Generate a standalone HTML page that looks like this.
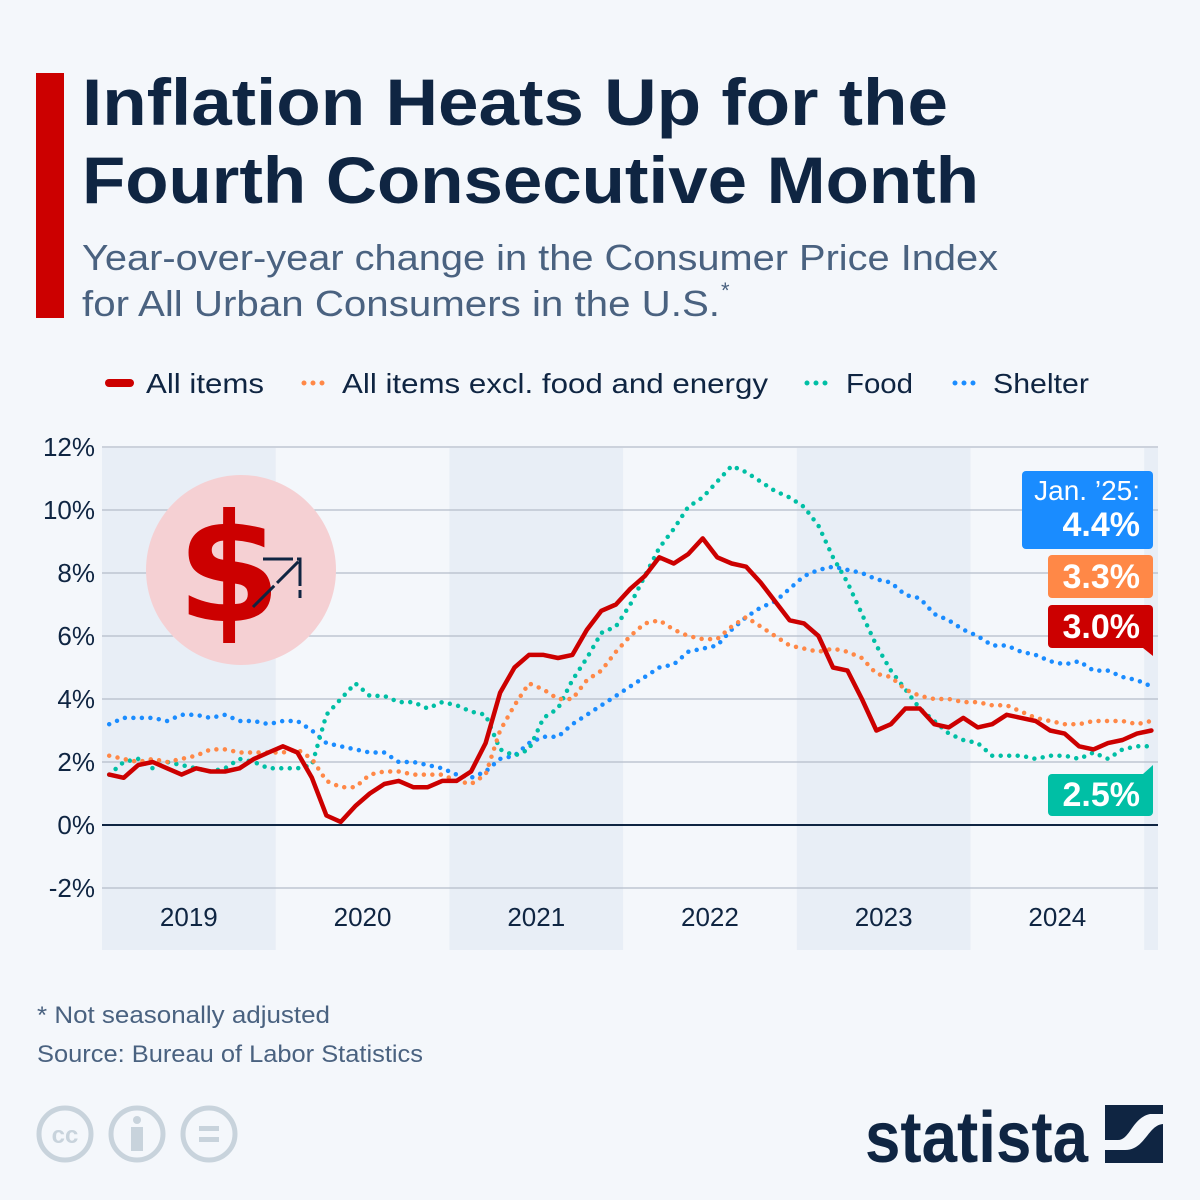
<!DOCTYPE html>
<html><head><meta charset="utf-8"><style>
html,body{margin:0;padding:0;background:#f4f7fb;}
svg{display:block;font-family:"Liberation Sans",sans-serif;}
</style></head><body>
<svg id="chart" width="1200" height="1200" viewBox="0 0 1200 1200" xmlns="http://www.w3.org/2000/svg">
<rect width="1200" height="1200" fill="#f4f7fb"/>
<rect x="36" y="73" width="28" height="245" fill="#cc0000"/>
<text x="82" y="125" font-size="66" font-weight="bold" fill="#0f2542" textLength="866" lengthAdjust="spacingAndGlyphs">Inflation Heats Up for the</text>
<text x="82" y="203" font-size="66" font-weight="bold" fill="#0f2542" textLength="897" lengthAdjust="spacingAndGlyphs">Fourth Consecutive Month</text>
<text x="82" y="270" font-size="36" fill="#4a6280" textLength="916" lengthAdjust="spacingAndGlyphs">Year-over-year change in the Consumer Price Index</text>
<text x="82" y="316" font-size="36" fill="#4a6280" textLength="638" lengthAdjust="spacingAndGlyphs">for All Urban Consumers in the U.S.</text>
<text x="721" y="298" font-size="22" fill="#4a6280">*</text>

<g>
<g><line x1="109" y1="383" x2="130" y2="383" stroke="#cc0000" stroke-width="8" stroke-linecap="round"/><text x="146" y="393" font-size="28" fill="#0f2542" textLength="118" lengthAdjust="spacingAndGlyphs">All items</text></g>
<g><line x1="304" y1="383" x2="326" y2="383" stroke="#ff8847" stroke-width="5" stroke-dasharray="0 9" stroke-linecap="round"/><text x="342" y="393" font-size="28" fill="#0f2542" textLength="426" lengthAdjust="spacingAndGlyphs">All items excl. food and energy</text></g>
<g><line x1="807" y1="383" x2="829" y2="383" stroke="#00bfa5" stroke-width="5" stroke-dasharray="0 9" stroke-linecap="round"/><text x="846" y="393" font-size="28" fill="#0f2542" textLength="67" lengthAdjust="spacingAndGlyphs">Food</text></g>
<g><line x1="955" y1="383" x2="977" y2="383" stroke="#1a8cff" stroke-width="5" stroke-dasharray="0 9" stroke-linecap="round"/><text x="993" y="393" font-size="28" fill="#0f2542" textLength="96" lengthAdjust="spacingAndGlyphs">Shelter</text></g>
</g>

<g id="bands"></g>
<g id="grid"></g>
<g id="ylabels"></g>
<g id="xlabels"></g>

<g>
<circle cx="241" cy="570" r="95" fill="#f5d0d3"/>
<text x="229" y="621" font-size="150" font-weight="bold" fill="#cc0000" text-anchor="middle" font-family="'DejaVu Sans',sans-serif">$</text>
<path d="M253 607 L300 560 M263 559 L300 559 L300 598" stroke="#0f2542" stroke-width="3" fill="none" stroke-dasharray="30 4"/>
</g>

<g id="series"></g>

<g>
<g><rect x="1022" y="471" width="131" height="78" rx="4" fill="#1a8cff"/><text x="1140" y="500" font-size="28" fill="#fff" text-anchor="end">Jan. ’25:</text><text x="1140" y="536" font-size="34" font-weight="bold" fill="#fff" text-anchor="end">4.4%</text></g>
<g><rect x="1048" y="555" width="105" height="43" rx="4" fill="#ff8847"/><text x="1140" y="588" font-size="34" font-weight="bold" fill="#fff" text-anchor="end">3.3%</text></g>
<g><rect x="1048" y="605" width="105" height="43" rx="4" fill="#cc0000"/><path d="M1143 648 L1153 656 L1153 640 Z" fill="#cc0000"/><text x="1140" y="638" font-size="34" font-weight="bold" fill="#fff" text-anchor="end">3.0%</text></g>
<g><rect x="1048" y="774" width="105" height="42" rx="4" fill="#00bfa5"/><path d="M1143 774 L1153 765 L1153 782 Z" fill="#00bfa5"/><text x="1140" y="806" font-size="34" font-weight="bold" fill="#fff" text-anchor="end">2.5%</text></g>
</g>

<text x="37" y="1023" font-size="24" fill="#4a6280" textLength="293" lengthAdjust="spacingAndGlyphs">* Not seasonally adjusted</text>
<text x="37" y="1062" font-size="24" fill="#4a6280" textLength="386" lengthAdjust="spacingAndGlyphs">Source: Bureau of Labor Statistics</text>

<g fill="none" stroke="#c8d3dc" stroke-width="5">
<circle cx="65" cy="1134" r="26"/><text x="65" y="1143" font-size="24" font-weight="bold" fill="#c8d3dc" stroke="none" text-anchor="middle">cc</text>
<circle cx="137" cy="1134" r="26"/><circle cx="137" cy="1120" r="4" fill="#c8d3dc" stroke="none"/><rect x="131" y="1127" width="12" height="24" fill="#c8d3dc" stroke="none"/>
<circle cx="209" cy="1134" r="26"/><rect x="199" y="1126" width="20" height="5" fill="#c8d3dc" stroke="none"/><rect x="199" y="1137" width="20" height="5" fill="#c8d3dc" stroke="none"/>
</g>

<g>
<text x="865" y="1162" font-size="72" font-weight="bold" fill="#0f2542" textLength="223" lengthAdjust="spacingAndGlyphs">statista</text>
<rect x="1105" y="1105" width="58" height="58" fill="#0f2542"/>
<path d="M1105 1140 L1118 1140 C1130 1140 1132 1118 1150 1114 L1163 1114 L1163 1124 C1148 1125 1145 1150 1125 1150 L1105 1150 Z" fill="#f4f7fb"/>
</g>
</svg>
<script>
const yTicks = [-2,0,2,4,6,8,10,12];
const years = ["2019","2020","2021","2022","2023","2024"];
const allItems = [1.6,1.5,1.9,2.0,1.8,1.6,1.8,1.7,1.7,1.8,2.1,2.3, 2.5,2.3,1.5,0.3,0.1,0.6,1.0,1.3,1.4,1.2,1.2,1.4, 1.4,1.7,2.6,4.2,5.0,5.4,5.4,5.3,5.4,6.2,6.8,7.0, 7.5,7.9,8.5,8.3,8.6,9.1,8.5,8.3,8.2,7.7,7.1,6.5, 6.4,6.0,5.0,4.9,4.0,3.0,3.2,3.7,3.7,3.2,3.1,3.4, 3.1,3.2,3.5,3.4,3.3,3.0,2.9,2.5,2.4,2.6,2.7,2.9, 3.0];
const core = [2.2,2.1,2.0,2.1,2.0,2.1,2.2,2.4,2.4,2.3,2.3,2.3, 2.3,2.4,2.1,1.4,1.2,1.2,1.6,1.7,1.7,1.6,1.6,1.6, 1.4,1.3,1.6,3.0,3.8,4.5,4.3,4.0,4.0,4.6,4.9,5.5, 6.0,6.4,6.5,6.2,6.0,5.9,5.9,6.3,6.6,6.3,6.0,5.7, 5.6,5.5,5.6,5.5,5.3,4.8,4.7,4.3,4.1,4.0,4.0,3.9, 3.9,3.8,3.8,3.6,3.4,3.3,3.2,3.2,3.3,3.3,3.3,3.2, 3.3];
const food = [1.6,2.0,2.1,1.8,2.0,1.9,1.8,1.7,1.8,2.1,2.0,1.8, 1.8,1.8,1.9,3.5,4.0,4.5,4.1,4.1,3.9,3.9,3.7,3.9, 3.8,3.6,3.5,2.4,2.2,2.4,3.4,3.7,4.6,5.3,6.1,6.3, 7.0,7.9,8.8,9.4,10.1,10.4,10.9,11.4,11.2,10.9,10.6,10.4, 10.1,9.5,8.5,7.7,6.7,5.7,4.9,4.3,3.7,3.3,2.9,2.7, 2.6,2.2,2.2,2.2,2.1,2.2,2.2,2.1,2.3,2.1,2.4,2.5, 2.5];
const shelter = [3.2,3.4,3.4,3.4,3.3,3.5,3.5,3.4,3.5,3.3,3.3,3.2, 3.3,3.3,3.0,2.6,2.5,2.4,2.3,2.3,2.0,2.0,1.9,1.8, 1.6,1.5,1.7,2.1,2.2,2.6,2.8,2.8,3.2,3.5,3.8,4.1, 4.4,4.7,5.0,5.1,5.5,5.6,5.7,6.2,6.6,6.9,7.1,7.5, 7.9,8.1,8.2,8.1,8.0,7.8,7.7,7.3,7.2,6.7,6.5,6.2, 6.0,5.7,5.7,5.5,5.4,5.2,5.1,5.2,4.9,4.9,4.7,4.6, 4.4];

const NS="http://www.w3.org/2000/svg";
const x0=102, yearW=173.7, monthW=yearW/12, xRight=1158;
const xScale = i => x0 + (i+0.5)*monthW;
const yScale = v => 825 - v*31.5;
function mk(tag, attrs, parent){const e=document.createElementNS(NS,tag);for(const k in attrs)e.setAttribute(k,attrs[k]);parent.appendChild(e);return e;}

const bands=document.getElementById('bands');
for(let y=0;y<=6;y+=2){
  const bx=x0+y*yearW, bw=Math.min(yearW, xRight-bx);
  const r=mk('rect',{x:bx,y:448,width:bw,height:502,fill:'#e8eef6'},bands);
  
  
}
const grid=document.getElementById('grid'), yl=document.getElementById('ylabels');
yTicks.forEach(t=>{
  const l=mk('line',{x1:x0,x2:xRight,y1:yScale(t),y2:yScale(t),stroke:t===0?'#0f2542':'#b4bdc9','stroke-width':t===0?2:1.3},grid);
  
  
  const tx=mk('text',{x:95,y:yScale(t)+9,'font-size':26,fill:'#0f2542','text-anchor':'end'},yl);
  tx.textContent=t+'%';
  
  
});
const xl=document.getElementById('xlabels');
years.forEach((yr,i)=>{
  const tx=mk('text',{x:x0+(i+0.5)*yearW,y:926,'font-size':26,fill:'#0f2542','text-anchor':'middle'},xl);
  tx.textContent=yr;
  
  
});
const sg=document.getElementById('series');
function line(data,color,w,dash,name){
  const d=data.map((v,i)=>(i?'L':'M')+xScale(i).toFixed(1)+' '+yScale(v).toFixed(1)).join(' ');
  const p=mk('path',{d:d,fill:'none',stroke:color,'stroke-width':w,'stroke-linejoin':'round','stroke-linecap':'round'},sg);
  if(dash)p.setAttribute('stroke-dasharray',dash);
  
  
}
line(shelter,'#1a8cff',4.5,'0 8.5','line-shelter');
line(food,'#00bfa5',4.5,'0 8.5','line-food');
line(core,'#ff8847',4.5,'0 8.5','line-core');
line(allItems,'#cc0000',4.5,null,'line-all-items');
</script>
</body></html>
